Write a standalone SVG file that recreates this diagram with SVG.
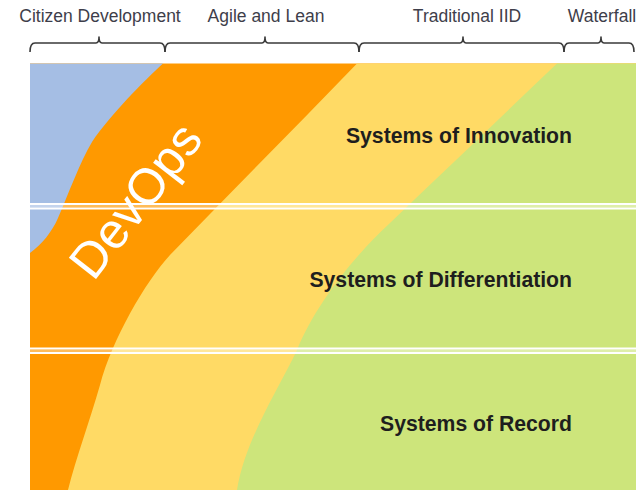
<svg xmlns="http://www.w3.org/2000/svg" width="640" height="491" viewBox="0 0 640 491">
<style>
.top{font-family:"Liberation Sans",Arial,sans-serif;font-size:17.5px;fill:#3e3e4a;text-anchor:middle}
.sys{font-family:"Liberation Sans",Arial,sans-serif;font-size:21.2px;font-weight:bold;fill:#1e1e1e;text-anchor:end}
.brace{fill:none;stroke:#3a3a3a;stroke-width:1.6;stroke-linejoin:round}
.sep{fill:#ffffff}
</style>
<rect width="640" height="491" fill="#ffffff"/>
<g id="bands">
<rect x="30" y="63.5" width="606" height="426.5" fill="#FF9900"/>
<path id="blue" d="M30,63.5 L163,63.5 C145,80 110,115 92,142 C80,162 68,195 58,218 C52,232 42,244 30,253 Z" fill="#A5BEE4"/>
<path id="yellow" d="M357,63.5 C295,128 232,191 170,255 C145,282 112,340 100,385 C90,420 76,458 68,490 L636,490 L636,63.5 Z" fill="#FFDA65"/>
<path id="green" d="M557,63.5 C500,118 440,175 390,223 C355,255 315,305 297,350 C278,390 245,440 237,490 L636,490 L636,63.5 Z" fill="#CDE57B"/>
</g>
<g id="separators">
<rect class="sep" x="30" y="203" width="606" height="2"/>
<rect class="sep" x="30" y="205" width="606" height="2.5" opacity="0.35"/>
<rect class="sep" x="30" y="207.5" width="606" height="2"/>
<rect class="sep" x="30" y="347.5" width="606" height="2"/>
<rect class="sep" x="30" y="349.5" width="606" height="2.5" opacity="0.35"/>
<rect class="sep" x="30" y="352" width="606" height="2"/>
</g>
<g id="devops">
<text x="149" y="211" transform="rotate(-52 149 211)" font-family="'Liberation Sans',Arial,sans-serif" font-size="50" fill="#ffffff" text-anchor="middle">DevOps</text>
</g>
<g id="connectors">
<path class="brace" d="M30,52 Q30,43 35,43 L96,43 Q99,43 99,37 Q99,43 102,43 L160,43 Q165,43 165,52"/>
<path class="brace" d="M165,52 Q165,43 170,43 L262,43 Q265,43 265,37 Q265,43 268,43 L354,43 Q359,43 359,52"/>
<path class="brace" d="M359,52 Q359,43 364,43 L460,43 Q463,43 463,37 Q463,43 466,43 L559,43 Q564,43 564,52"/>
<path class="brace" d="M564,52 Q564,43 569,43 L598,43 Q601,43 601,37 Q601,43 604,43 L629,43 Q634,43 634,52"/>
</g>
<g id="labels">
<text class="top" x="100" y="22">Citizen Development</text>
<text class="top" x="266" y="22">Agile and Lean</text>
<text class="top" x="467" y="22">Traditional IID</text>
<text class="top" x="602" y="22">Waterfall</text>
</g>
<g id="n-innovation"><text class="sys" x="572" y="143">Systems of Innovation</text></g>
<g id="n-differentiation"><text class="sys" x="572" y="287">Systems of Differentiation</text></g>
<g id="n-record"><text class="sys" x="572" y="431">Systems of Record</text></g>
</svg>
